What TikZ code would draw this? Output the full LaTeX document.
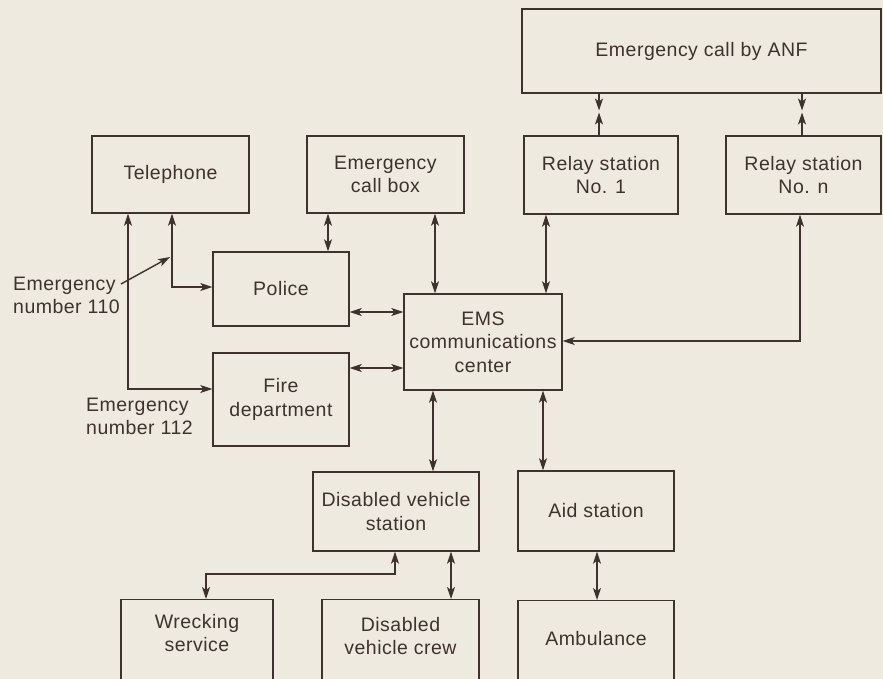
\documentclass[tikz,border=0pt]{standalone}
\usepackage{fontspec}
\setmainfont{Liberation Sans}[LetterSpace=2.5]
\usetikzlibrary{arrows.meta}
\definecolor{bg}{RGB}{238,234,223}
\definecolor{ink}{RGB}{62,50,46}
\begin{document}
\begin{tikzpicture}[x=1pt,y=-1pt,
  box/.style={draw=ink, line width=1.4pt, inner sep=0pt, align=center, text=ink,
    font=\fontsize{19.5}{23.5}\selectfont},
  txt/.style={inner sep=0pt, text=ink, font=\fontsize{19.5}{23}\selectfont},
  link/.style={draw=ink, line width=1.4pt, {Stealth[length=12pt,width=8pt,inset=3pt]}-{Stealth[length=12pt,width=8pt,inset=3pt]}},
  tip/.style={draw=ink, line width=1.4pt, -{Stealth[length=12pt,width=8pt,inset=3pt]}}]
\fill[bg] (0,0) rectangle (883,679);
\useasboundingbox (0,0) rectangle (883,679);
\clip (0,0) rectangle (883,679);

% boxes
\node[box, minimum width=359pt, minimum height=84pt] (anf) at (701.5,51) {Emergency call by ANF};
\node[box, minimum width=154pt, minimum height=78pt] (r1) at (601,175) {Relay station\\No. 1};
\node[box, minimum width=155pt, minimum height=78pt] (rn) at (803.5,175) {Relay station\\No. n};
\node[box, minimum width=157pt, minimum height=77pt] (tel) at (170.5,174.5) {Telephone};
\node[box, minimum width=157pt, minimum height=77pt] (cb) at (385.5,174.5) {Emergency\\call box};
\node[box, minimum width=136pt, minimum height=74pt] (pol) at (281,289) {Police};
\node[box, minimum width=136pt, minimum height=93pt] (fire) at (281,399.5) {Fire\\department};
\node[box, minimum width=158pt, minimum height=96pt] (ems) at (483,342) {EMS\\communications\\center};
\node[box, minimum width=166pt, minimum height=79pt] (dvs) at (396,511.5) {Disabled vehicle\\station};
\node[box, minimum width=156pt, minimum height=80pt] (aid) at (596,511) {Aid station};
\node[box, minimum width=152pt, minimum height=110pt, anchor=north] (wreck) at (197,599) {};
\node[box, minimum width=157pt, minimum height=110pt, anchor=north] (crew) at (400.5,599) {};
\node[box, minimum width=156pt, minimum height=110pt, anchor=north] (amb) at (596,600) {};
\node[txt, align=center] (wrecktxt) at (197,633) {Wrecking\\service};
\node[txt, align=center] (crewtxt) at (400.5,636) {Disabled\\vehicle crew};
\node[txt, align=center] (ambtxt) at (596,639) {Ambulance};

% labels
\node[txt, align=left, anchor=west] (l110) at (13,295) {Emergency\\number 110};
\node[txt, align=left, anchor=west] (l112) at (86,416) {Emergency\\number 112};

% helper coordinates
\coordinate (m1) at (599,111.5);
\coordinate (m2) at (802,111.5);
\coordinate (t1) at (128,389);
\coordinate (t2) at (172,287);
\coordinate (p0) at (121,284);
\coordinate (p1) at (170,257);
\coordinate (cbp) at (328,0);
\coordinate (cbe) at (435,0);
\coordinate (r1e) at (546,0);
\coordinate (rne) at (800,341);
\coordinate (pe) at (0,312);
\coordinate (fe) at (0,368);
\coordinate (ed) at (433,0);
\coordinate (ea) at (543,0);
\coordinate (w1) at (395,574);
\coordinate (w2) at (206,574);
\coordinate (dc) at (451,0);
\coordinate (aa) at (597,0);

% ANF - relays
\draw[tip] (anf.south -| m1) -- ([yshift=1pt]m1);
\draw[tip] (r1.north -| m1) -- ([yshift=-1pt]m1);
\draw[tip] (anf.south -| m2) -- ([yshift=1pt]m2);
\draw[tip] (rn.north -| m2) -- ([yshift=-1pt]m2);

% telephone links
\draw[link] (tel.south -| t1) |- (fire.west |- t1);
\draw[link] (tel.south -| t2) |- (pol.west |- t2);
\draw[tip] (p0) -- (p1);

% call box, relays to EMS
\draw[link] (cb.south -| cbp) -- (pol.north -| cbp);
\draw[link] (cb.south -| cbe) -- (ems.north -| cbe);
\draw[link] (r1.south -| r1e) -- (ems.north -| r1e);
\draw[link] (rn.south -| rne) |- (ems.east |- rne);

% police, fire to EMS
\draw[link] (pol.east |- pe) -- (ems.west |- pe);
\draw[link] (fire.east |- fe) -- (ems.west |- fe);

% EMS down
\draw[link] (ems.south -| ed) -- (dvs.north -| ed);
\draw[link] (ems.south -| ea) -- (aid.north -| ea);
\draw[link] (dvs.south -| w1) -- (w1) -- (w2) -- (wreck.north -| w2);
\draw[link] (dvs.south -| dc) -- (crew.north -| dc);
\draw[link] (aid.south -| aa) -- (amb.north -| aa);
\end{tikzpicture}
\end{document}
